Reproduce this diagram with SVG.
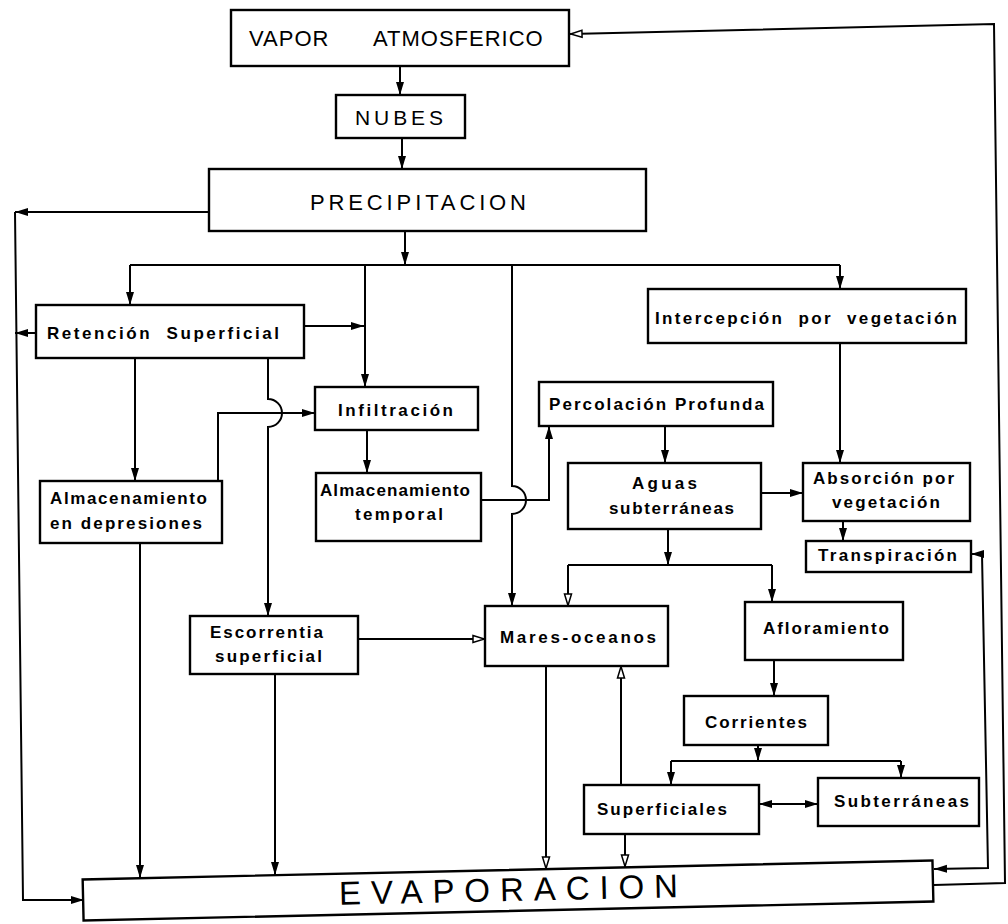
<svg xmlns="http://www.w3.org/2000/svg" width="1008" height="924" viewBox="0 0 1008 924">
<defs>
<style>
.box{fill:#fff;stroke:#000;stroke-width:2.4}
.ln{fill:none;stroke:#000;stroke-width:2}
.cap{font-family:"Liberation Sans",Arial,sans-serif;font-weight:normal;fill:#000}
.lbl{font-family:"Liberation Sans",Arial,sans-serif;font-weight:bold;font-size:17px;fill:#000}
</style>
<marker id="ah" markerUnits="userSpaceOnUse" markerWidth="14" markerHeight="10" refX="13" refY="5" orient="auto-start-reverse"><path d="M0,1 L13,5 L0,9 z" fill="#000"/></marker>
<marker id="ao" markerUnits="userSpaceOnUse" markerWidth="14" markerHeight="10" refX="13" refY="5" orient="auto-start-reverse"><path d="M1,1.5 L12.5,5 L1,8.5 z" fill="#fff" stroke="#000" stroke-width="1.5"/></marker>
</defs>
<rect width="1008" height="924" fill="#fff"/>

<g id="connectors">
<path class="ln" d="M400 66 V95" marker-end="url(#ah)"/>
<path class="ln" d="M402 138 V169" marker-end="url(#ah)"/>
<path class="ln" d="M209 212 H15" marker-end="url(#ah)"/>
<path class="ln" d="M15 212 L23 900 H84" marker-end="url(#ah)"/>
<path class="ln" d="M405 231 V265" marker-end="url(#ah)"/>
<path class="ln" d="M130 265 H840"/>
<path class="ln" d="M130 265 V305" marker-end="url(#ah)"/>
<path class="ln" d="M365 265 V387" marker-end="url(#ah)"/>
<path class="ln" d="M512 265 V486 A14 14 0 0 1 512 514 V606" marker-end="url(#ah)"/>
<path class="ln" d="M840 265 V289" marker-end="url(#ah)"/>
<path class="ln" d="M36 333 H15" marker-end="url(#ah)"/>
<path class="ln" d="M304 326 H364" marker-end="url(#ah)"/>
<path class="ln" d="M135 358 V481" marker-end="url(#ah)"/>
<path class="ln" d="M268 358 V399 A14 14 0 0 1 268 427 V616" marker-end="url(#ah)"/>
<path class="ln" d="M218 481 V413 H315" marker-end="url(#ah)"/>
<path class="ln" d="M367 430 V473" marker-end="url(#ah)"/>
<path class="ln" d="M481 500 H549 V426" marker-end="url(#ah)"/>
<path class="ln" d="M665 426 V463" marker-end="url(#ah)"/>
<path class="ln" d="M761 493 H803" marker-end="url(#ah)"/>
<path class="ln" d="M840 343 V463" marker-end="url(#ah)"/>
<path class="ln" d="M843 521 V541" marker-end="url(#ah)"/>
<path class="ln" d="M934 869 L988 868 L982 554 H971" marker-start="url(#ah)" marker-end="url(#ah)"/>
<path class="ln" d="M934 885 L1005 883 L994 24 L570 34" marker-end="url(#ao)"/>
<path class="ln" d="M140 543 V878" marker-end="url(#ah)"/>
<path class="ln" d="M275 674 V875" marker-end="url(#ah)"/>
<path class="ln" d="M358 639 H485" marker-end="url(#ao)"/>
<path class="ln" d="M668 529 V565" marker-end="url(#ah)"/>
<path class="ln" d="M568 565 H772"/>
<path class="ln" d="M568 565 V606" marker-end="url(#ao)"/>
<path class="ln" d="M772 565 V602" marker-end="url(#ah)"/>
<path class="ln" d="M774 660 V696" marker-end="url(#ah)"/>
<path class="ln" d="M758 745 V761" marker-end="url(#ah)"/>
<path class="ln" d="M671 761 H901"/>
<path class="ln" d="M671 761 V785" marker-end="url(#ah)"/>
<path class="ln" d="M901 761 V778" marker-end="url(#ah)"/>
<path class="ln" d="M759 804 H818" marker-start="url(#ah)" marker-end="url(#ah)"/>
<path class="ln" d="M546 666 V869" marker-end="url(#ao)"/>
<path class="ln" d="M621 785 V666" marker-end="url(#ao)"/>
<path class="ln" d="M625 834 V867" marker-end="url(#ao)"/>
</g>

<g id="vapor"><rect class="box" x="231" y="10" width="338" height="56"/>
<text class="cap" font-size="22" y="46" letter-spacing="1"><tspan x="249">VAPOR</tspan><tspan x="373">ATMOSFERICO</tspan></text></g>

<g id="nubes"><rect class="box" x="336" y="95" width="129" height="43"/>
<text class="cap" font-size="21" x="355" y="125" textLength="88" lengthAdjust="spacing">NUBES</text></g>

<g id="precipitacion"><rect class="box" x="209" y="169" width="437" height="62"/>
<text class="cap" font-size="22" x="310" y="210" textLength="216" lengthAdjust="spacing">PRECIPITACION</text></g>

<g id="retencion"><rect class="box" x="36" y="305" width="268" height="53"/>
<text class="lbl" font-size="18" x="47" y="339" textLength="232" lengthAdjust="spacing" style="white-space:pre">Retención  Superficial</text></g>

<g id="almac-depresiones"><rect class="box" x="40" y="481" width="182" height="62"/>
<text class="lbl" x="50" y="504" textLength="157" lengthAdjust="spacing">Almacenamiento</text>
<text class="lbl" x="50" y="529" textLength="152" lengthAdjust="spacing">en depresiones</text></g>

<g id="infiltracion"><rect class="box" x="315" y="387" width="163" height="43"/>
<text class="lbl" x="338" y="416" textLength="115" lengthAdjust="spacing">Infiltración</text></g>

<g id="almac-temporal"><rect class="box" x="316" y="473" width="165" height="68"/>
<text class="lbl" x="320" y="496" textLength="150" lengthAdjust="spacing">Almacenamiento</text>
<text class="lbl" x="355" y="520" textLength="88" lengthAdjust="spacing">temporal</text></g>

<g id="percolacion"><rect class="box" x="539" y="382" width="234" height="44"/>
<text class="lbl" x="549" y="410" textLength="215" lengthAdjust="spacing">Percolación Profunda</text></g>

<g id="aguas"><rect class="box" x="568" y="463" width="193" height="66"/>
<text class="lbl" x="632" y="489" textLength="65" lengthAdjust="spacing">Aguas</text>
<text class="lbl" x="609" y="514" textLength="125" lengthAdjust="spacing">subterráneas</text></g>

<g id="intercepcion"><rect class="box" x="648" y="289" width="318" height="54"/>
<text class="lbl" x="655" y="324" textLength="302" lengthAdjust="spacing" style="white-space:pre">Intercepción  por  vegetación</text></g>

<g id="absorcion"><rect class="box" x="803" y="463" width="167" height="58"/>
<text class="lbl" x="813" y="484" textLength="141" lengthAdjust="spacing">Absorción por</text>
<text class="lbl" x="832" y="508" textLength="108" lengthAdjust="spacing">vegetación</text></g>

<g id="transpiracion"><rect class="box" x="806" y="541" width="165" height="31"/>
<text class="lbl" x="818" y="561" textLength="139" lengthAdjust="spacing">Transpiración</text></g>

<g id="escorrentia"><rect class="box" x="190" y="616" width="168" height="58"/>
<text class="lbl" x="210" y="638" textLength="113" lengthAdjust="spacing">Escorrentia</text>
<text class="lbl" x="215" y="662" textLength="107" lengthAdjust="spacing">superficial</text></g>

<g id="mares"><rect class="box" x="485" y="606" width="183" height="60"/>
<text class="lbl" x="500" y="643" textLength="156" lengthAdjust="spacing">Mares-oceanos</text></g>

<g id="afloramiento"><rect class="box" x="745" y="602" width="158" height="58"/>
<text class="lbl" x="763" y="634" textLength="126" lengthAdjust="spacing">Afloramiento</text></g>

<g id="corrientes"><rect class="box" x="684" y="696" width="144" height="49"/>
<text class="lbl" x="705" y="728" textLength="102" lengthAdjust="spacing">Corrientes</text></g>

<g id="superficiales"><rect class="box" x="584" y="785" width="175" height="49"/>
<text class="lbl" x="597" y="815" textLength="130" lengthAdjust="spacing">Superficiales</text></g>

<g id="subterraneas"><rect class="box" x="818" y="778" width="161" height="48"/>
<text class="lbl" x="834" y="807" textLength="135" lengthAdjust="spacing">Subterráneas</text></g>

<g id="evaporacion" transform="rotate(-1.28 508 890)"><rect class="box" x="83" y="870" width="850" height="41"/>
<text class="cap" font-size="33" x="339" y="901" textLength="339" lengthAdjust="spacing">EVAPORACION</text></g>
</svg>
